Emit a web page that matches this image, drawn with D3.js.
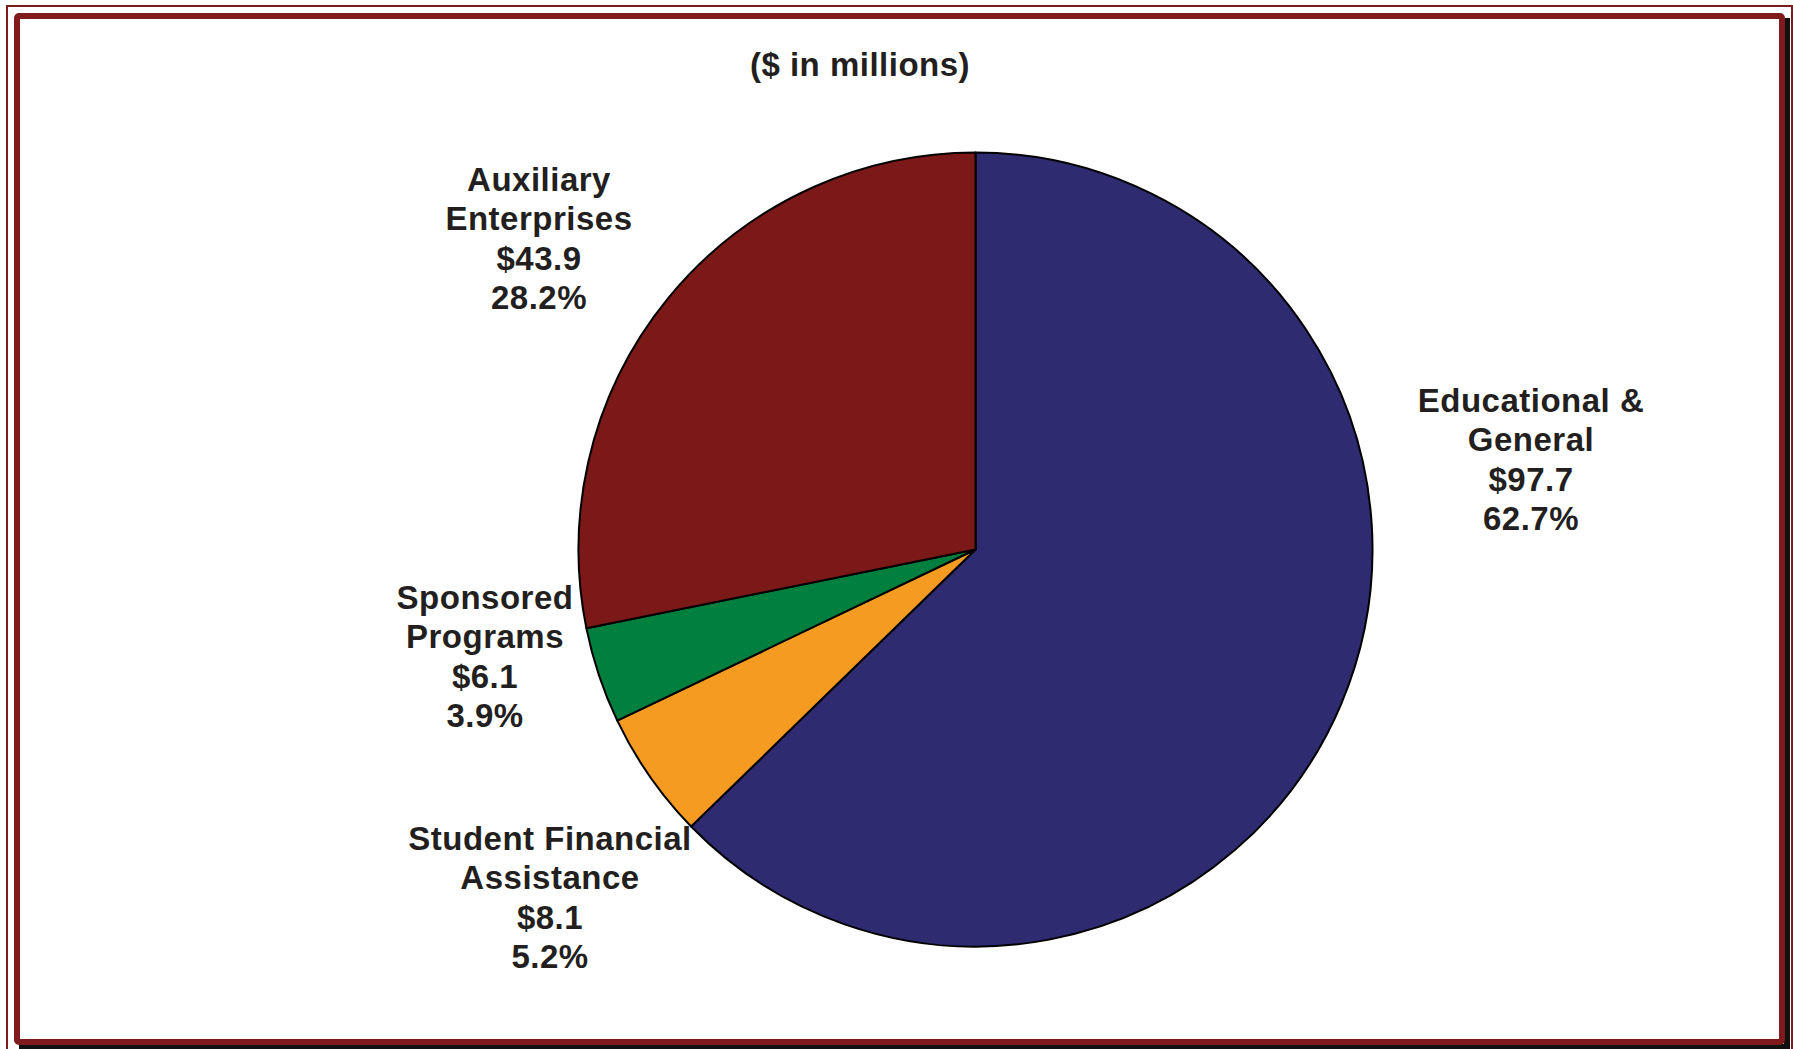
<!DOCTYPE html>
<html>
<head>
<meta charset="utf-8">
<script src="https://cdn.jsdelivr.net/npm/d3@7/dist/d3.min.js"></script>
<style>
  html, body { margin: 0; padding: 0; background: #fff; }
  svg { display: block; }
  text { font-family: "Liberation Sans", Arial, Helvetica, sans-serif; font-weight: bold; fill: #231f20; }
</style>
</head>
<body>
<svg id="chart" width="1793" height="1049"></svg>
<script>
// Operating expenditures by function ($ in millions)
const categories = ["Educational & General", "Student Financial Assistance", "Sponsored Programs", "Auxiliary Enterprises"];
const amounts = [97.7, 8.1, 6.1, 43.9];
const percents = [62.7, 5.2, 3.9, 28.2];
const labelLines = [
  ["Educational &", "General"],
  ["Student Financial", "Assistance"],
  ["Sponsored", "Programs"],
  ["Auxiliary", "Enterprises"]
];
const colors = ["#2e2b70", "#f59b21", "#007f3f", "#7b1818"];

const W = 1793, H = 1049;
const svg = d3.select("#chart");

// Frame: thin outer rule, thick inner rule with a drop shadow
const frame = "#7f1a1d";
svg.append("rect").attr("x", 7).attr("y", 6).attr("width", 1785).attr("height", 1060)
  .attr("fill", "none").attr("stroke", frame).attr("stroke-width", 2);
svg.append("rect").attr("x", 22).attr("y", 21).attr("width", 1765).attr("height", 1026)
  .attr("fill", "none").attr("stroke", "#111").attr("stroke-width", 6);
svg.append("rect").attr("x", 17).attr("y", 16).attr("width", 1765).attr("height", 1026)
  .attr("fill", "#fff").attr("stroke", frame).attr("stroke-width", 6).attr("rx", 2);

const fontSize = 33, tracking = 0.5;

// Subtitle
svg.append("text").attr("x", 860).attr("y", 64).attr("text-anchor", "middle")
  .attr("dominant-baseline", "central").attr("font-size", fontSize).attr("letter-spacing", tracking)
  .text("($ in millions)");

// Pie
const cx = 975.5, cy = 549.5, r = 397;
const data = categories.map((c, i) => ({ name: c, value: amounts[i], pct: percents[i], lines: labelLines[i], color: colors[i] }));
const pie = d3.pie().value(d => d.value).sort(null);
const arc = d3.arc().innerRadius(0).outerRadius(r);
const g = svg.append("g").attr("transform", `translate(${cx},${cy})`);
g.selectAll("path").data(pie(data)).join("path")
  .attr("d", arc)
  .attr("fill", d => d.data.color)
  .attr("stroke", "#000")
  .attr("stroke-width", 2)
  .attr("stroke-linejoin", "round");

// Labels placed outside the slices
const labelPos = {
  "Educational & General": [1531, 400],
  "Student Financial Assistance": [550, 838],
  "Sponsored Programs": [485, 597],
  "Auxiliary Enterprises": [539, 179]
};
const lineH = 39.5;
data.forEach(d => {
  const [lx, ly] = labelPos[d.name];
  const t = svg.append("text").attr("text-anchor", "middle").attr("font-size", fontSize).attr("letter-spacing", tracking);
  const rows = [...d.lines, "$" + d3.format(".1f")(d.value), d3.format(".1f")(d.pct) + "%"];
  rows.forEach((row, k) => {
    t.append("tspan").attr("x", lx).attr("y", ly + k * lineH).attr("dominant-baseline", "central").text(row);
  });
});
</script>
</body>
</html>
